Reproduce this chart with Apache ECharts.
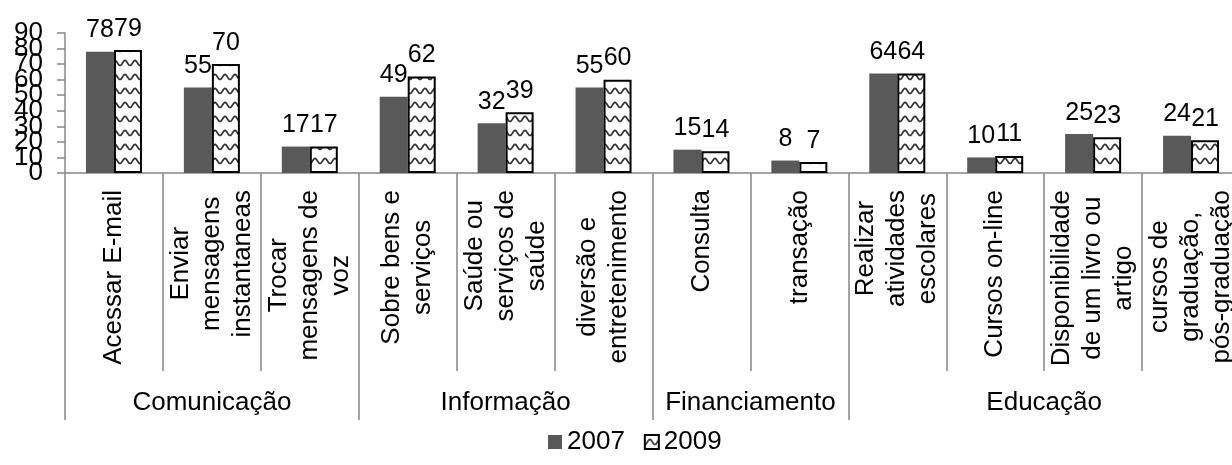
<!DOCTYPE html>
<html>
<head>
<meta charset="utf-8">
<script src="https://cdn.jsdelivr.net/npm/echarts@6/dist/echarts.min.js"></script>
<style>
  html, body { margin: 0; padding: 0; background: #fff; }
  #chart { width: 1232px; height: 465px; }
</style>
</head>
<body>
<div id="chart"></div>
<script>
const categories = [
  "Acessar E-mail",
  "Enviar\nmensagens\ninstantaneas",
  "Trocar\nmensagens de\nvoz",
  "Sobre bens e\nserviços",
  "Saúde ou\nserviços de\nsaúde",
  "diversão e\nentretenimento",
  "Consulta",
  "transação",
  "Realizar\natividades\nescolares",
  "Cursos on-line",
  "Disponibilidade\nde um livro ou\nartigo",
  "cursos de\ngraduação,\npós-graduação"
];
const groups = ["Comunicação", "Informação", "Financiamento", "Educação"];
const groupSizes = [3, 3, 2, 4];
const values2007 = [78, 55, 17, 49, 32, 55, 15, 8, 64, 10, 25, 24];
const values2009 = [79, 70, 17, 62, 39, 60, 14, 7, 64, 11, 23, 21];
const yTicks = [0, 10, 20, 30, 40, 50, 60, 70, 80, 90];

const font = "Liberation Sans";
const gray = "#878787";
const lineGap = 31;

// wave pattern for the 2009 bars
const pat = document.createElement("canvas");
pat.width = 10;
pat.height = 14;
const pctx = pat.getContext("2d");
pctx.fillStyle = "#fff";
pctx.fillRect(0, 0, 10, 14);
pctx.strokeStyle = "#333";
pctx.lineWidth = 1.7;
pctx.beginPath();
for (let x = 0; x <= 10; x += 0.5) {
  const y = 7 + 2.5 * Math.cos(2 * Math.PI * x / 10);
  if (x === 0) pctx.moveTo(x, y); else pctx.lineTo(x, y);
}
pctx.stroke();

// group axis: half-category slots, labels in the middle of each group
const groupSlots = [];
const groupLabelAt = {};
const groupTickAt = [0];
let pos = 0;
groups.forEach((g, i) => {
  groupLabelAt[pos + groupSizes[i]] = g;
  pos += groupSizes[i] * 2;
  groupTickAt.push(pos);
});
for (let k = 0; k <= pos; k++) groupSlots.push(groupLabelAt[k] || "");

const yBase = {
  type: "value",
  position: "left",
  min: yTicks[0],
  max: yTicks[yTicks.length - 1],
  interval: 10,
  splitLine: { show: false }
};

const chart = echarts.init(document.getElementById("chart"));
chart.setOption({
  animation: false,
  textStyle: { fontFamily: font },
  grid: { left: 65, top: 33, width: 1175, height: 140, outerBoundsMode: "none", containLabel: false },
  legend: {
    data: ["2007", "2009"],
    left: 543,
    top: 424,
    itemWidth: 14,
    itemHeight: 14,
    itemGap: 19,
    icon: "rect",
    textStyle: { fontSize: 26, color: "#000", fontFamily: font }
  },
  xAxis: [
    {
      type: "category",
      position: "bottom",
      data: categories,
      axisLine: { show: true, lineStyle: { color: gray, width: 1.5 } },
      axisTick: { show: true, interval: 0, length: 198, lineStyle: { color: gray, width: 1.5 } },
      axisLabel: { show: false }
    },
    {
      type: "category",
      data: groupSlots,
      boundaryGap: false,
      position: "bottom",
      axisLine: { show: false },
      axisTick: {
        show: true,
        interval: (i) => groupTickAt.includes(i),
        length: 247,
        lineStyle: { color: gray, width: 1.5 }
      },
      axisLabel: {
        interval: (i, v) => v !== "",
        margin: 217,
        fontSize: 26,
        color: "#000",
        fontFamily: font
      }
    }
  ],
  // two overlaid value axes so the crowded tick labels all stay visible
  yAxis: [
    Object.assign({}, yBase, {
      axisLine: { show: true, lineStyle: { color: gray, width: 1.5 } },
      axisTick: { show: true, length: 8, lineStyle: { color: gray, width: 1.5 } },
      axisLabel: {
        fontSize: 26, color: "#000", margin: 22, fontFamily: font,
        showMinLabel: true, showMaxLabel: true,
        formatter: v => (v / 10) % 2 === 0 ? String(v) : ""
      }
    }),
    Object.assign({}, yBase, {
      axisLine: { show: false },
      axisTick: { show: false },
      axisLabel: {
        fontSize: 26, color: "#000", margin: 22, fontFamily: font,
        showMinLabel: true, showMaxLabel: true,
        formatter: v => (v / 10) % 2 === 1 ? String(v) : ""
      }
    })
  ],
  series: [
    {
      name: "2007",
      type: "bar",
      data: values2007,
      barWidth: 28,
      barGap: "0%",
      itemStyle: { color: "#595959" },
      label: { show: true, position: "top", distance: 9, fontSize: 25, color: "#000", fontFamily: font }
    },
    {
      name: "2009",
      type: "bar",
      data: values2009,
      barWidth: 28,
      barGap: "0%",
      itemStyle: { color: { image: pat, repeat: "repeat" }, borderColor: "#000", borderWidth: 2 },
      label: { show: true, position: "top", distance: 9, fontSize: 25, color: "#000", fontFamily: font }
    }
  ]
});

// category labels: rotated, one text per line, placed from the axis scale.
// the block starts just under the axis and the lines are centred on each other
const mctx = document.createElement("canvas").getContext("2d");
mctx.font = "26px '" + font + "'";
const axisY = chart.convertToPixel({ yAxisIndex: 0 }, 0);
const labelTexts = [];
categories.forEach((c, i) => {
  const lines = c.split("\n");
  const W = Math.max(...lines.map(s => mctx.measureText(s).width));
  const cx = chart.convertToPixel({ xAxisIndex: 0 }, i);
  lines.forEach((s, j) => {
    labelTexts.push({
      type: "text",
      silent: true,
      x: cx + (j - (lines.length - 1) / 2) * lineGap,
      y: axisY + 17 + W / 2,
      rotation: Math.PI / 2,
      style: {
        text: s,
        fill: "#000",
        font: "26px '" + font + "'",
        align: "center",
        verticalAlign: "middle"
      }
    });
  });
});
chart.setOption({ graphic: labelTexts });
</script>
</body>
</html>
